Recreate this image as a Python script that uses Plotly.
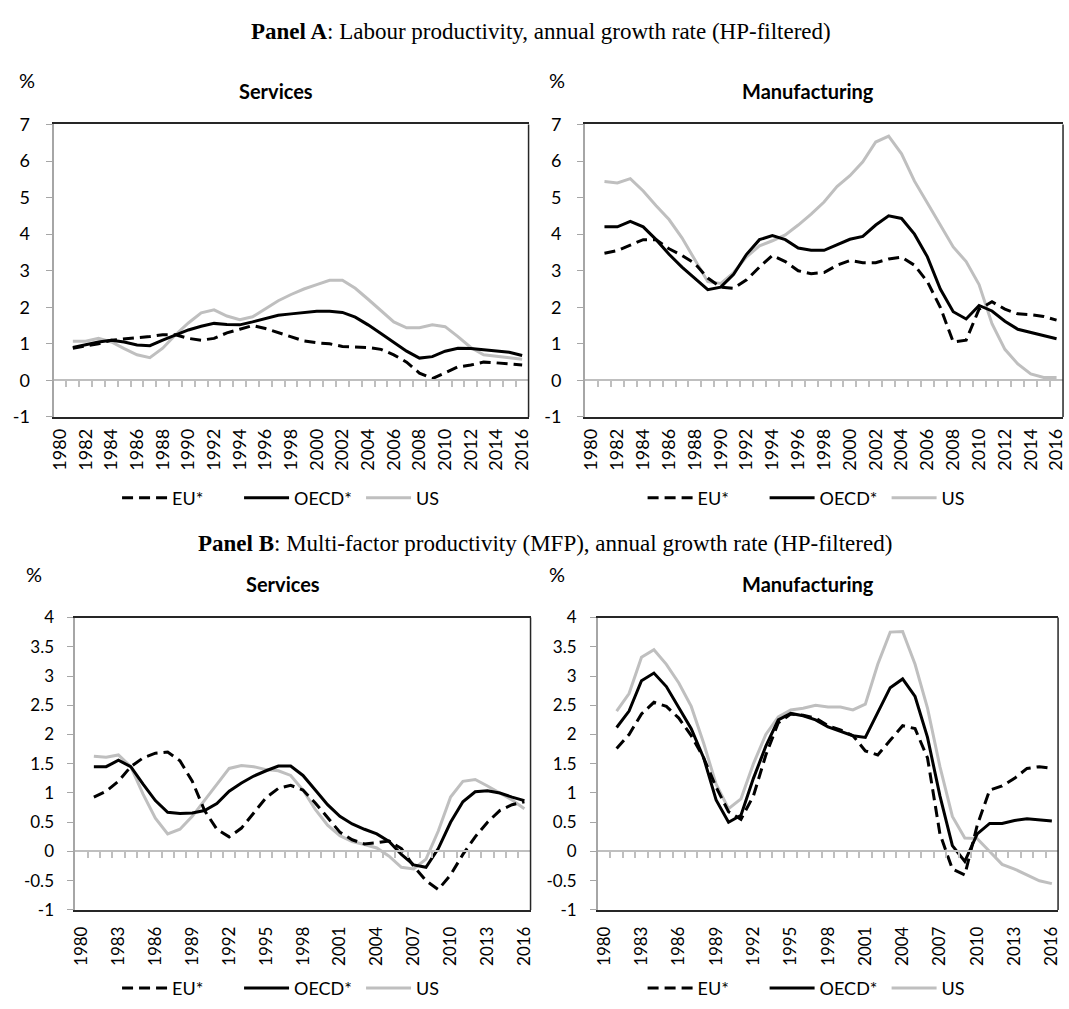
import plotly.graph_objects as go

years = list(range(1981, 2017))

# Panel A: labour productivity (services)
a_serv_eu = [0.88, 0.93, 1.0, 1.1, 1.13, 1.15, 1.2, 1.25, 1.25, 1.15, 1.1, 1.15, 1.3, 1.4, 1.5, 1.42, 1.3, 1.2,
             1.08, 1.03, 1.0, 0.93, 0.92, 0.9, 0.85, 0.7, 0.5, 0.2, 0.05, 0.2, 0.37, 0.42, 0.5, 0.48, 0.44, 0.42]
a_serv_oecd = [0.9, 0.98, 1.05, 1.1, 1.05, 0.97, 0.95, 1.1, 1.25, 1.38, 1.48, 1.56, 1.53, 1.52, 1.6, 1.7, 1.78, 1.82,
               1.85, 1.89, 1.89, 1.86, 1.73, 1.52, 1.28, 1.04, 0.8, 0.61, 0.65, 0.8, 0.88, 0.87, 0.83, 0.8, 0.77, 0.68]
a_serv_us = [1.07, 1.07, 1.15, 1.05, 0.87, 0.7, 0.62, 0.88, 1.25, 1.57, 1.85, 1.93, 1.76, 1.66, 1.74, 1.97, 2.18, 2.35,
             2.5, 2.62, 2.74, 2.74, 2.52, 2.22, 1.92, 1.6, 1.44, 1.44, 1.52, 1.47, 1.2, 0.9, 0.7, 0.65, 0.62, 0.58]

# Panel A: labour productivity (manufacturing)
a_manu_eu = [3.48, 3.55, 3.7, 3.85, 3.85, 3.6, 3.42, 3.2, 2.8, 2.55, 2.52, 2.75, 3.1, 3.42, 3.25, 3.0, 2.92, 2.95,
             3.15, 3.28, 3.22, 3.22, 3.32, 3.37, 3.15, 2.7, 2.0, 1.05, 1.1, 1.95, 2.15, 1.95, 1.82, 1.8, 1.75, 1.65]
a_manu_oecd = [4.2, 4.2, 4.35, 4.2, 3.85, 3.45, 3.1, 2.78, 2.48, 2.55, 2.9, 3.45, 3.85, 3.96, 3.85, 3.62, 3.56, 3.56,
               3.72, 3.86, 3.94, 4.25, 4.5, 4.43, 4.0, 3.38, 2.5, 1.88, 1.68, 2.05, 1.9, 1.62, 1.4, 1.32, 1.22, 1.14]
a_manu_us = [5.44, 5.4, 5.52, 5.18, 4.78, 4.4, 3.9, 3.3, 2.7, 2.65, 2.95, 3.38, 3.68, 3.82, 3.98, 4.25, 4.55, 4.88,
             5.3, 5.6, 5.98, 6.52, 6.68, 6.2, 5.45, 4.85, 4.25, 3.65, 3.25, 2.62, 1.55, 0.85, 0.45, 0.18, 0.08, 0.08]

# Panel B: MFP (services)
b_serv_eu = [0.93, 1.03, 1.2, 1.45, 1.6, 1.68, 1.7, 1.55, 1.2, 0.7, 0.38, 0.25, 0.4, 0.65, 0.92, 1.08, 1.13, 1.05,
             0.83, 0.58, 0.33, 0.2, 0.13, 0.15, 0.18, 0.05, -0.25, -0.5, -0.65, -0.4, -0.05, 0.25, 0.5, 0.7, 0.8, 0.85]
b_serv_oecd = [1.45, 1.45, 1.56, 1.45, 1.15, 0.87, 0.67, 0.65, 0.66, 0.7, 0.82, 1.03, 1.17, 1.29, 1.38, 1.46, 1.46, 1.3,
               1.05, 0.8, 0.6, 0.47, 0.38, 0.3, 0.17, -0.05, -0.23, -0.27, 0.05, 0.5, 0.85, 1.02, 1.04, 1.0, 0.93, 0.87]
b_serv_us = [1.63, 1.61, 1.65, 1.45, 0.98, 0.57, 0.3, 0.38, 0.6, 0.88, 1.15, 1.42, 1.47, 1.45, 1.4, 1.38, 1.3, 1.05,
             0.72, 0.45, 0.27, 0.17, 0.12, 0.06, -0.08, -0.27, -0.3, -0.13, 0.35, 0.93, 1.2, 1.23, 1.12, 1.0, 0.88, 0.73]

# Panel B: MFP (manufacturing)
b_manu_eu = [1.76, 2.0, 2.35, 2.55, 2.48, 2.28, 1.98, 1.6, 1.1, 0.68, 0.55, 0.95, 1.65, 2.2, 2.35, 2.33, 2.28, 2.15,
             2.08, 1.98, 1.72, 1.65, 1.9, 2.15, 2.1, 1.6, 0.3, -0.3, -0.4, 0.45, 1.05, 1.12, 1.25, 1.42, 1.45, 1.42]
b_manu_oecd = [2.12, 2.4, 2.92, 3.05, 2.82, 2.47, 2.1, 1.6, 0.88, 0.5, 0.62, 1.25, 1.8, 2.25, 2.36, 2.32, 2.25, 2.13,
               2.06, 1.98, 1.95, 2.38, 2.8, 2.95, 2.65, 1.95, 0.95, 0.1, -0.17, 0.3, 0.48, 0.48, 0.53, 0.56, 0.54, 0.52]
b_manu_us = [2.4, 2.7, 3.32, 3.45, 3.2, 2.88, 2.48, 1.85, 1.15, 0.73, 0.9, 1.5, 2.0, 2.3, 2.42, 2.45, 2.5, 2.47,
             2.47, 2.42, 2.52, 3.2, 3.75, 3.76, 3.2, 2.45, 1.45, 0.6, 0.23, 0.22, 0.0, -0.22, -0.3, -0.4, -0.5, -0.55]

series_names = ["EU*", "OECD*", "US"]
ticks_a = list(range(1980, 2017, 2))
ticks_b = list(range(1980, 2017, 3))
yticks_a = [-1, 0, 1, 2, 3, 4, 5, 6, 7]
yticks_b = [-1, -0.5, 0, 0.5, 1, 1.5, 2, 2.5, 3, 3.5, 4]
boundaries = [y + 0.5 for y in range(1980, 2016)]

W, H = 1069, 1009
FONT = "Lato"
GRAY = "#BFBFBF"
AXGRAY = "#A6A6A6"
DARK = "#262626"


def fmt(v):
    return "%g" % v


# panel layout in pixels: (left, right, top, bottom)
panels = [
    dict(px=(48, 527, 115, 414), yr=(-1, 7), yt=yticks_a, xt=ticks_a, fs=18, so=(3, 12),
         data=(a_serv_eu, a_serv_oecd, a_serv_us), title="Services", tpos=(272, 81), pct=(21, 70),
         leg=(112, 497)),
    dict(px=(584, 1066, 115, 414), yr=(-1, 7), yt=yticks_a, xt=ticks_a, fs=18, so=(3, 12),
         data=(a_manu_eu, a_manu_oecd, a_manu_us), title="Manufacturing", tpos=(809, 81), pct=(556, 70),
         leg=(642, 497)),
    dict(px=(70, 529, 619, 918), yr=(-1, 4), yt=yticks_b, xt=ticks_b, fs=17, so=(8, 10),
         data=(b_serv_eu, b_serv_oecd, b_serv_us), title="Services", tpos=(279, 585), pct=(28, 575),
         leg=(112, 998)),
    dict(px=(597, 1061, 619, 918), yr=(-1, 4), yt=yticks_b, xt=ticks_b, fs=17, so=(8, 10),
         data=(b_manu_eu, b_manu_oecd, b_manu_us), title="Manufacturing", tpos=(809, 585), pct=(556, 575),
         leg=(642, 998)),
]

styles = [dict(color="black", width=3, dash="11px,6px"),
          dict(color="black", width=3),
          dict(color=GRAY, width=3)]
order = [2, 1, 0]  # draw US underneath

fig = go.Figure()
layout = dict(width=W, height=H, margin=dict(l=0, r=0, t=0, b=0), paper_bgcolor="white",
              plot_bgcolor="white", showlegend=True, annotations=[], shapes=[])

for i, p in enumerate(panels):
    n = i + 1
    xs = "" if n == 1 else str(n)
    xname, yname = "x" + xs, "y" + xs
    legname = "legend" if n == 1 else "legend" + str(n)
    l, r, t, b = p["px"]
    xd = [l / W, r / W]
    yd = [1 - b / H, 1 - t / H]
    for k in order:
        fig.add_trace(go.Scatter(x=years, y=p["data"][k], mode="lines", name=series_names[k],
                                 line=styles[k], xaxis=xname, yaxis=yname, legend=legname,
                                 legendrank=k + 1, hoverinfo="skip"))
    zname = "x" + str(n + 4)
    fig.add_trace(go.Scatter(x=[None], y=[None], mode="lines", xaxis=zname, yaxis=yname,
                             showlegend=False, hoverinfo="skip"))
    y0, y1 = p["yr"]
    fs = p["fs"]
    layout["xaxis" + xs] = dict(domain=xd, anchor=yname, range=[1979.5, 2016.5], tickvals=p["xt"],
                                ticktext=[str(v) for v in p["xt"]], tickangle=-90, showgrid=False,
                                zeroline=False, showline=True, linecolor=DARK, linewidth=1.5, mirror=True,
                                ticks="", ticklabelstandoff=p["so"][0],
                                tickfont=dict(family=FONT, size=fs, color="black"))
    layout["yaxis" + xs] = dict(domain=yd, anchor=xname, range=[y0, y1], tickvals=p["yt"],
                                ticktext=[fmt(v) for v in p["yt"]],
                                showgrid=False, zeroline=False, showline=True, linecolor=AXGRAY, linewidth=2,
                                ticks="outside", ticklen=6, tickcolor=AXGRAY, tickwidth=1,
                                ticklabelstandoff=p["so"][1],
                                tickfont=dict(family=FONT, size=fs, color="black"))
    zpos = yd[0] + (0 - y0) / (y1 - y0) * (yd[1] - yd[0])
    layout["xaxis" + str(n + 4)] = dict(overlaying=xname, anchor="free", position=zpos, side="bottom",
                                        domain=xd, range=[1979.5, 2016.5], tickvals=boundaries,
                                        showticklabels=False, ticks="outside", ticklen=6, tickcolor=GRAY,
                                        tickwidth=1.5, showline=True, linecolor=GRAY, linewidth=2,
                                        showgrid=False, zeroline=False)
    layout["shapes"].append(dict(type="line", xref=xname + " domain", yref=yname + " domain",
                                 x0=1, x1=1, y0=0, y1=1, line=dict(color=DARK, width=1.5)))
    layout[legname] = dict(orientation="h", x=p["leg"][0] / W, y=1 - p["leg"][1] / H, xanchor="left",
                           yanchor="middle", font=dict(family=FONT, size=18, color="black"),
                           bgcolor="rgba(0,0,0,0)", itemwidth=45, traceorder="normal",
                           entrywidth=62, entrywidthmode="pixels")
    layout["annotations"].append(dict(text="<b>" + p["title"] + "</b>", x=p["tpos"][0] / W,
                                      y=1 - p["tpos"][1] / H, xref="paper", yref="paper", showarrow=False,
                                      xanchor="center", yanchor="middle",
                                      font=dict(family=FONT, size=20, color="black")))
    layout["annotations"].append(dict(text="%", x=p["pct"][0] / W, y=1 - p["pct"][1] / H, xref="paper",
                                      yref="paper", showarrow=False, xanchor="center", yanchor="middle",
                                      font=dict(family=FONT, size=20, color="black")))

layout["annotations"].append(dict(text="<b>Panel A</b>: Labour productivity, annual growth rate (HP-filtered)",
                                  x=540 / W, y=1 - 20 / H, xref="paper", yref="paper", showarrow=False,
                                  xanchor="center", yanchor="middle",
                                  font=dict(family="Liberation Serif", size=23, color="black")))
layout["annotations"].append(dict(text="<b>Panel B</b>: Multi-factor productivity (MFP), annual growth rate (HP-filtered)",
                                  x=544 / W, y=1 - 543 / H, xref="paper", yref="paper", showarrow=False,
                                  xanchor="center", yanchor="middle",
                                  font=dict(family="Liberation Serif", size=23, color="black")))

fig.update_layout(**layout)
fig.write_html("out.html", config={"displayModeBar": False},
               post_script="document.body.style.margin='0';")
